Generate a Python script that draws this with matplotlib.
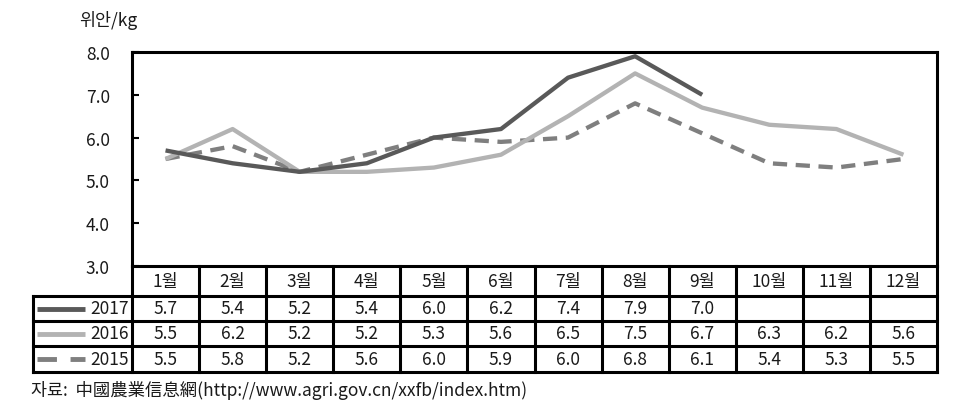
import matplotlib
matplotlib.use("Agg")
import matplotlib.pyplot as plt
import numpy as np

months = ["1월", "2월", "3월", "4월", "5월", "6월", "7월", "8월", "9월", "10월", "11월", "12월"]
years = ["2017", "2016", "2015"]
v2017 = [5.7, 5.4, 5.2, 5.4, 6.0, 6.2, 7.4, 7.9, 7.0]
v2016 = [5.5, 6.2, 5.2, 5.2, 5.3, 5.6, 6.5, 7.5, 6.7, 6.3, 6.2, 5.6]
v2015 = [5.5, 5.8, 5.2, 5.6, 6.0, 5.9, 6.0, 6.8, 6.1, 5.4, 5.3, 5.5]
yticks = [3.0, 4.0, 5.0, 6.0, 7.0, 8.0]
unit_label = "위안/kg"
source = "자료:  中國農業信息網(http://www.agri.gov.cn/xxfb/index.htm)"

plt.rcParams['font.family'] = ['Noto Sans CJK KR', 'DejaVu Sans']
plt.rcParams['font.weight'] = 'light'
FS = 12.5
TXT = "#1a1a1a"

W, H = 971, 414
fig = plt.figure(figsize=(W / 100, H / 100), dpi=100)

def fx(px):
    return px / W

def fy(py):
    return 1 - py / H

styles = {
    "2017": dict(color="#595959", lw=3.1, ls="-"),
    "2016": dict(color="#b3b3b3", lw=3.1, ls="-"),
    "2015": dict(color="#7f7f7f", lw=3.1, ls=(0, (3.3, 2))),
}
series = {"2017": v2017, "2016": v2016, "2015": v2015}

# main axes
ax_l, ax_r, ax_t, ax_b = 132, 937, 53, 267
ax = fig.add_axes([fx(ax_l), fy(ax_b), fx(ax_r - ax_l), (ax_b - ax_t) / H])
for y in ["2015", "2016", "2017"]:
    vals = series[y]
    ax.plot(np.arange(len(vals)), vals, solid_capstyle="butt", dash_capstyle="butt", **styles[y])
ax.set_xlim(-0.5, len(months) - 0.5)
ax.set_ylim(3, 8)
ax.set_yticks(yticks)
ax.set_yticklabels([f"{t:.1f}" for t in yticks], fontsize=FS, color=TXT)
ax.set_xticks([])
ax.tick_params(axis="y", direction="in", length=5, width=1.5, pad=16)
for s in ["left", "top", "right"]:
    ax.spines[s].set_linewidth(2.2)
ax.spines["bottom"].set_visible(False)

fig.text(fx(79), fy(21), unit_label, fontsize=FS, color=TXT, va="center", ha="left")

# table axes
tl, tr, tt, tb = 33, 937, 267, 373
colw = (ax_r - ax_l) / len(months)
label_w = (ax_l - tl) / colw
tax = fig.add_axes([fx(tl), fy(tb), fx(tr - tl), (tb - tt) / H])
tax.set_xlim(-0.5 - label_w, len(months) - 0.5)
tax.set_ylim(tb - tt, 0)
tax.axis("off")
rows_y = [0, 30, 55, 80, 106]
x0 = -0.5
xl = -0.5 - label_w
xr = len(months) - 0.5
lw = 2.2
tax.plot([x0, xr], [rows_y[0], rows_y[0]], color="black", lw=lw, clip_on=False)
for yy in rows_y[1:]:
    tax.plot([xl, xr], [yy, yy], color="black", lw=lw, clip_on=False)
for i in range(len(months) + 1):
    xx = -0.5 + i
    tax.plot([xx, xx], [rows_y[0], rows_y[-1]], color="black", lw=lw, clip_on=False)
tax.plot([xl, xl], [rows_y[1], rows_y[-1]], color="black", lw=lw, clip_on=False)

for i, m in enumerate(months):
    tax.text(i, (rows_y[0] + rows_y[1]) / 2, m, ha="center", va="center", fontsize=FS, color=TXT)

for r, y in enumerate(years):
    yc = (rows_y[r + 1] + rows_y[r + 2]) / 2
    vals = series[y]
    for i, v in enumerate(vals):
        tax.text(i, yc, f"{v:.1f}", ha="center", va="center", fontsize=FS, color=TXT)
    st = styles[y]
    ls = st["ls"] if st["ls"] == "-" else (0, (4, 2.8))
    tax.plot([xl + 4 / colw, xl + 52 / colw], [yc, yc], color=st["color"], lw=3.5,
             ls=ls, solid_capstyle="butt", dash_capstyle="butt", clip_on=False)
    tax.text(x0 - 3 / colw, yc, y, ha="right", va="center", fontsize=FS, color=TXT)

fig.text(fx(31), fy(391), source, fontsize=FS, color=TXT, va="center", ha="left")

fig.savefig("out.png", dpi=100)
